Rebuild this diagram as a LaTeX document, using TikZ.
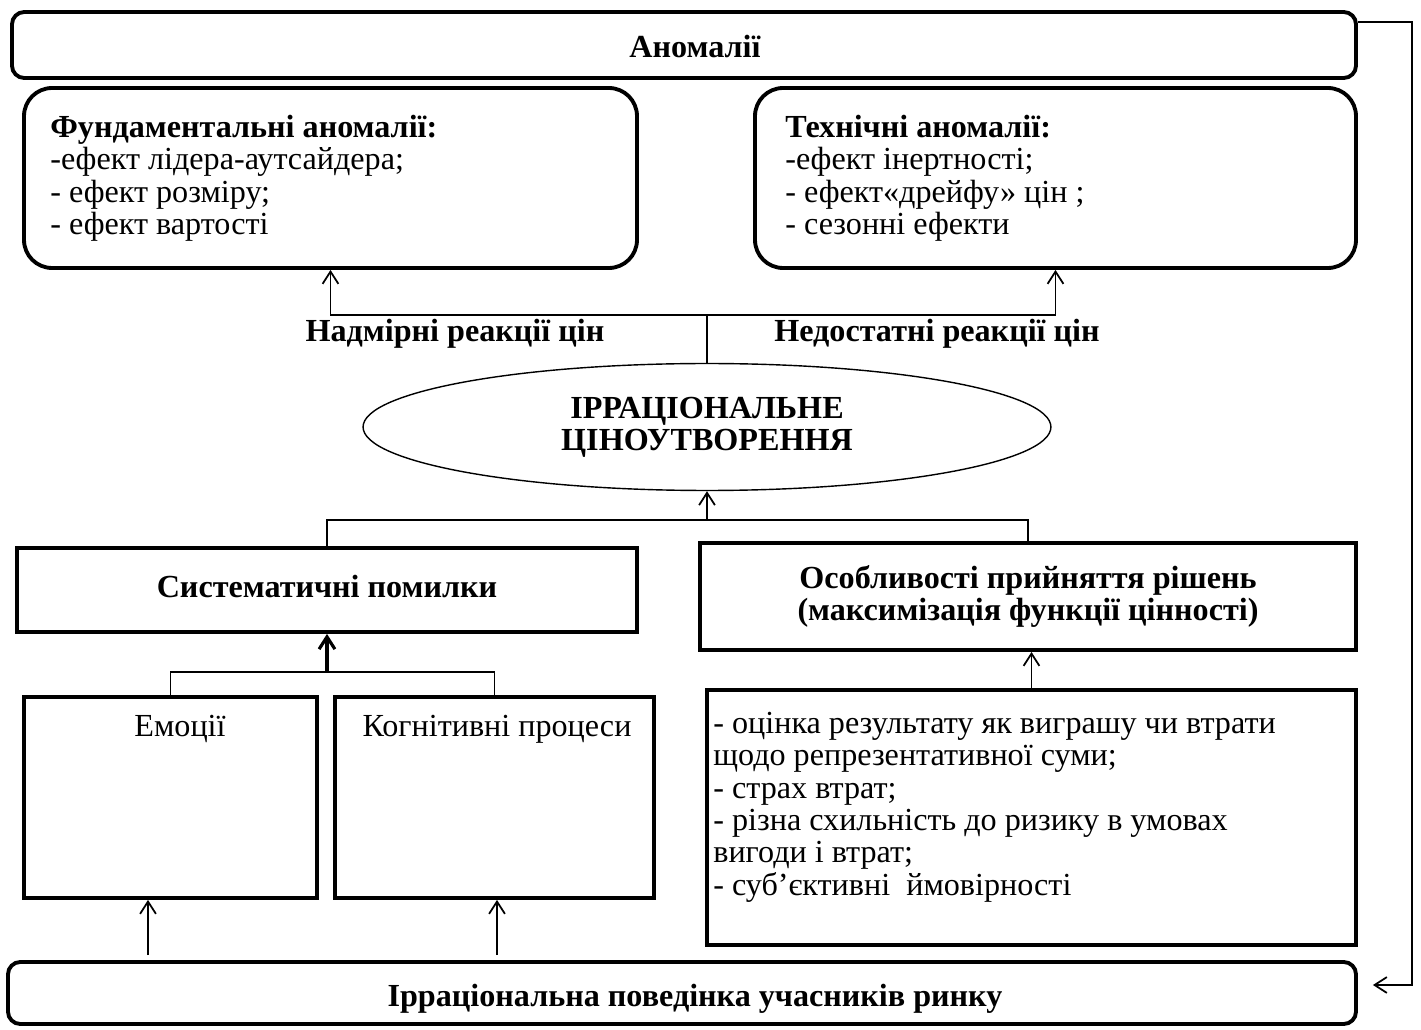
\documentclass[tikz,border=0pt]{standalone}
\usepackage{fontspec}
\setmainfont{Liberation Serif}
\usetikzlibrary{positioning,fit,shapes.geometric,arrows.meta}

\tikzset{
  rbox/.style={draw, line width=2.2pt, rounded corners=7pt, inner sep=0pt},
  bigrbox/.style={rbox, rounded corners=16pt},
  sbox/.style={draw, line width=2.2pt, inner sep=0pt},
  link/.style={line width=1pt},
  arr/.style={link, -{Straight Barb[length=7pt,width=9pt]}},
  txt/.style={inner sep=0pt, font=\fontsize{18.3}{18.4}\selectfont},
  btxt/.style={txt, font=\fontsize{18.3}{18.4}\selectfont\bfseries},
}

\begin{document}
\begin{tikzpicture}[x=0.02cm, y=-0.02cm]
    \useasboundingbox (0,0) rectangle (1421,1030);

    % top and bottom
    \node[rbox, fit={(12,12) (1356,78)}] (anom) {};
    \node[btxt] (anomtxt) at (695,47) {Аномалії};
    \node[rbox, fit={(8,962) (1356,1024)}] (behav) {};
    \node[btxt] (behavtxt) at (695,999) {Ірраціональна поведінка учасників ринку};

    % anomalies
    \node[bigrbox, fit={(24,88) (637,268)}] (fund) {};
    \node[txt, anchor=north west, align=left] (fundtxt) at (50,115)
        {\textbf{Фундаментальні аномалії:}\\-ефект лідера-аутсайдера;\\- ефект розміру;\\- ефект вартості};
    \node[bigrbox, fit={(755,88) (1356,268)}] (tech) {};
    \node[txt, anchor=north west, align=left] (techtxt) at (785,115)
        {\textbf{Технічні аномалії:}\\-ефект інертності;\\- ефект«дрейфу» цін ;\\- сезонні ефекти};

    % centre
    \node[draw, ellipse, line width=0.8pt, inner sep=0pt,
          minimum width=13.76cm, minimum height=2.54cm] (irr) at (707,427) {};
    \node[btxt, align=center] (irrtxt) at (irr.center) {ІРРАЦІОНАЛЬНЕ\\ЦІНОУТВОРЕННЯ};
    \node[btxt] (over) at (455,334) {Надмірні реакції цін};
    \node[btxt] (under) at (937,334) {Недостатні реакції цін};

    % causes
    \node[sbox, fit={(17,548) (637,632)}] (sys) {};
    \node[btxt] (systxt) at (327,587) {Систематичні помилки};
    \node[sbox, fit={(700,543) (1356,650)}] (feat) {};
    \node[btxt, align=center] (feattxt) at (feat.center) {Особливості прийняття рішень\\(максимізація функції цінності)};

    \node[sbox, fit={(24,697) (317,898)}] (emo) {};
    \node[txt, anchor=north] (emotxt) at (180,715) {Емоції};
    \node[sbox, fit={(335,697) (654,898)}] (cog) {};
    \node[txt, anchor=north] (cogtxt) at (497,715) {Когнітивні процеси};

    \node[sbox, fit={(707,690) (1356,945)}] (list) {};
    \node[txt, anchor=north west, align=left] (listtxt) at (713,712)
        {- оцінка результату як виграшу чи втрати\\щодо репрезентативної суми;\\- страх втрат;\\- різна схильність до ризику в умовах\\вигоди і втрат;\\- суб’єктивні~~ймовірності};

    % connectors
    \coordinate (split) at (707,315);
    \draw[link] (irr.north) -- (split);
    \draw[arr] (split) -| (fund.south);
    \draw[arr] (split) -| (tech.south);

    \coordinate (merge) at (707,520);
    \draw[arr] (merge) -- (irr.south);
    \draw[link] (sys.north) |- (merge) -| (feat.north);

    \coordinate (sysjoin) at (327,672);
    \draw[arr, line width=1.8pt] (sysjoin) -- (sys.south);
    \draw[link] (emo.north) |- (sysjoin) -| (cog.north);

    \draw[arr] (list.north) -- (list.north |- feat.south);

    \coordinate (emoin) at (148,955);
    \coordinate (cogin) at (497,955);
    \draw[arr] (emoin) -- (emoin |- emo.south);
    \draw[arr] (cogin) -- (cogin |- cog.south);

    % feedback
    \coordinate (fbtop) at (1412,22);
    \coordinate (fbbot) at (1412,985);
    \draw[arr, shorten >=0.3cm] (anom.east |- fbtop) -- (fbtop) -- (fbbot) -- (behav.east |- fbbot);
\end{tikzpicture}
\end{document}
